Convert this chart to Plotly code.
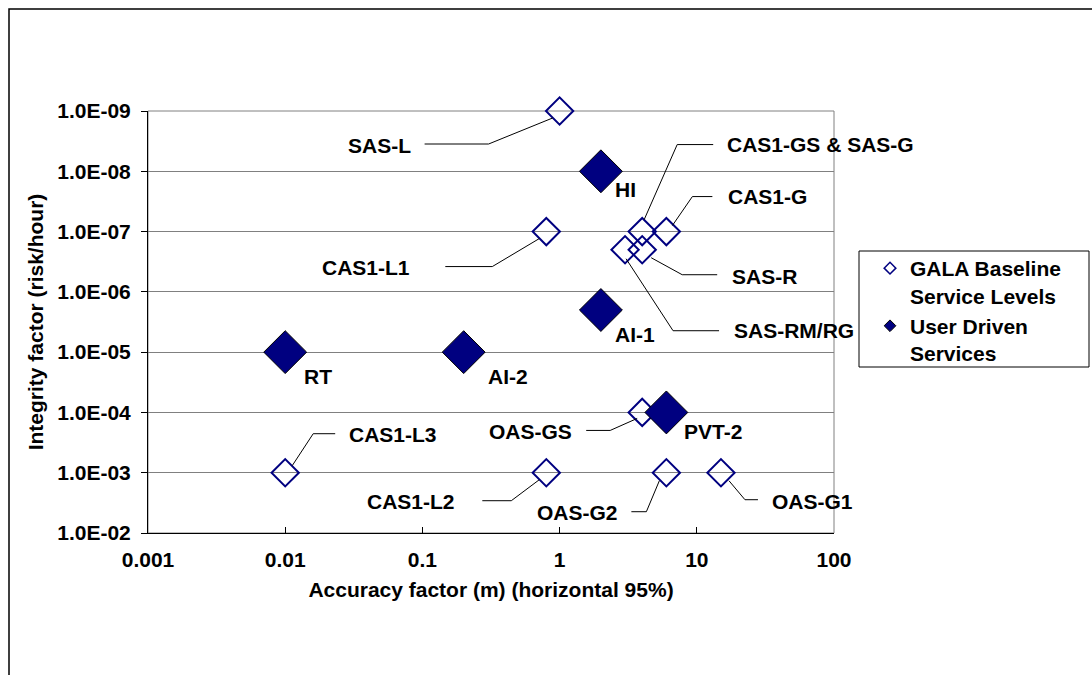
import numpy as np
import plotly.graph_objects as go

# ---------------- data ----------------
gala_labels = ["SAS-L", "CAS1-L1", "CAS1-GS & SAS-G", "CAS1-G", "SAS-R", "SAS-RM/RG",
               "OAS-GS", "CAS1-L3", "CAS1-L2", "OAS-G2", "OAS-G1"]
gala_x = [1, 0.8, 4, 6, 4, 3, 4, 0.01, 0.8, 6, 15]
gala_y = [1e-9, 1e-7, 1e-7, 1e-7, 2e-7, 2e-7, 1e-4, 1e-3, 1e-3, 1e-3, 1e-3]

user_labels = ["HI", "AI-1", "RT", "AI-2", "PVT-2"]
user_x = [2, 2, 0.01, 0.2, 6]
user_y = [1e-8, 2e-6, 1e-5, 1e-5, 1e-4]

x_tickvals = [0.001, 0.01, 0.1, 1, 10, 100]
x_ticktext = ["0.001", "0.01", "0.1", "1", "10", "100"]
y_tickvals = [1e-9, 1e-8, 1e-7, 1e-6, 1e-5, 1e-4, 1e-3, 1e-2]
y_ticktext = ["1.0E-09", "1.0E-08", "1.0E-07", "1.0E-06", "1.0E-05",
              "1.0E-04", "1.0E-03", "1.0E-02"]

series_names = ["GALA Baseline<br>Service Levels", "User Driven<br>Services"]

# ---------------- layout constants ----------------
W, H = 1092, 675
ML, MR, MT, MB = 148, 258, 111, 142
PW, PH = W - ML - MR, H - MT - MB

def pxx(px):
    return (px - ML) / PW

def pxy(py):
    return (H - MB - py) / PH

FONT = "Liberation Sans, Arial, Helvetica, sans-serif"
NAVY = "#000080"
FS = 21

# label placement: (text anchor side, dx, dy (screen px, down positive), leader polyline)
label_layout = {
    "SAS-L": ("right", -147, 34, [(-7, 7), (-71, 33), (-135, 33)]),
    "CAS1-L1": ("right", -134, 36, [(-7, 7), (-54, 35), (-101, 35)]),
    "CAS1-GS & SAS-G": ("left", 83, -87, [(2, -12), (35, -87), (71, -87)]),
    "CAS1-G": ("left", 60, -35, [(6, -6), (26, -35), (46, -35)]),
    "SAS-R": ("left", 88, 27, [(9, 8), (40, 25), (75, 25)]),
    "SAS-RM/RG": ("left", 107, 81, [(1, 9), (48, 81), (94, 81)]),
    "OAS-GS": ("right", -68, 19, [(-5, 6), (-32, 18), (-56, 18)]),
    "CAS1-L3": ("left", 62, -38, [(7, -7), (28, -39), (50, -39)]),
    "CAS1-L2": ("right", -89, 29, [(-7, 7), (-35, 28), (-64, 28)]),
    "OAS-G2": ("right", -46, 40, [(-7, 8), (-20, 39), (-35, 39)]),
    "OAS-G1": ("left", 49, 29, [(8, 8), (24, 27), (37, 27)]),
    "HI": ("left", 12, 18, None),
    "AI-1": ("left", 12, 24, None),
    "RT": ("left", 17, 24, None),
    "AI-2": ("left", 22, 24, None),
    "PVT-2": ("left", 16, 19, None),
}

fig = go.Figure()

fig.add_trace(go.Scatter(
    x=gala_x, y=gala_y, mode="markers", showlegend=False, hoverinfo="text",
    text=gala_labels, cliponaxis=False,
    marker=dict(symbol="diamond-open", size=21, color=NAVY, line=dict(width=2, color=NAVY)),
))
fig.add_trace(go.Scatter(
    x=user_x, y=user_y, mode="markers", showlegend=False, hoverinfo="text",
    text=user_labels, cliponaxis=False,
    marker=dict(symbol="diamond", size=33, color=NAVY, line=dict(width=1, color="black")),
))
# legend entries (small symbols as in the original)
fig.add_trace(go.Scatter(
    x=[None], y=[None], mode="markers", name=series_names[0],
    marker=dict(symbol="diamond-open", size=9, color=NAVY, line=dict(width=1.5, color=NAVY)),
))
fig.add_trace(go.Scatter(
    x=[None], y=[None], mode="markers", name=series_names[1],
    marker=dict(symbol="diamond", size=9, color=NAVY, line=dict(width=1, color="black")),
))

annotations = []
shapes = []
for labels, xs, ys in ((gala_labels, gala_x, gala_y), (user_labels, user_x, user_y)):
    for lab, xv, yv in zip(labels, xs, ys):
        side, dx, dy, path = label_layout[lab]
        annotations.append(dict(
            x=np.log10(xv), y=np.log10(yv), xref="x", yref="y", text=lab,
            showarrow=False, xanchor=side, yanchor="middle",
            xshift=dx, yshift=-dy,
            font=dict(family=FONT, size=FS, color="black", weight="bold"),
        ))
        if path:
            d = "M " + " L ".join(f"{px},{-py}" for px, py in path)
            shapes.append(dict(
                type="path", path=d, xref="x", yref="y",
                xsizemode="pixel", ysizemode="pixel", xanchor=xv, yanchor=yv,
                line=dict(color="black", width=1),
            ))

# plot-area border (grey, top/right)
shapes.append(dict(type="rect", xref="paper", yref="paper", x0=0, x1=1, y0=0, y1=1,
                   line=dict(color="#808080", width=1), layer="below"))
# legend box
shapes.append(dict(type="rect", xref="paper", yref="paper",
                   x0=pxx(859), x1=pxx(1089), y0=pxy(367), y1=pxy(251),
                   line=dict(color="black", width=1), fillcolor="rgba(0,0,0,0)"))
# outer chart frame
shapes.append(dict(type="rect", xref="paper", yref="paper",
                   x0=pxx(9), x1=pxx(1110), y0=pxy(700), y1=pxy(9),
                   line=dict(color="black", width=1.5), fillcolor="rgba(0,0,0,0)"))

tickfont = dict(family=FONT, size=FS, color="black", weight="bold")
titlefont = dict(family=FONT, size=FS, color="black", weight="bold")

fig.update_layout(
    width=W, height=H,
    margin=dict(l=ML, r=MR, t=MT, b=MB, pad=0),
    paper_bgcolor="white", plot_bgcolor="white",
    xaxis=dict(
        type="log", range=[-3, 2], tickmode="array", tickvals=x_tickvals, ticktext=x_ticktext,
        showgrid=False, zeroline=False, showline=True, linecolor="black", linewidth=1,
        ticks="inside", ticklen=6, tickcolor="black", tickwidth=1,
        tickfont=tickfont, ticklabelstandoff=8, automargin=False,
        title=dict(text="Accuracy factor (m) (horizontal 95%)", font=titlefont, standoff=12),
    ),
    yaxis=dict(
        type="log", range=[-2, -9], tickmode="array", tickvals=y_tickvals, ticktext=y_ticktext,
        showgrid=True, gridcolor="#808080", gridwidth=1, zeroline=False,
        showline=True, linecolor="black", linewidth=1,
        ticks="outside", ticklen=6, tickcolor="black", tickwidth=1,
        tickfont=tickfont, ticklabelstandoff=6, automargin=False,
        title=dict(text="Integrity factor (risk/hour)", font=titlefont, standoff=7),
    ),
    legend=dict(
        x=pxx(870), y=pxy(248), xanchor="left", yanchor="top",
        bgcolor="rgba(0,0,0,0)", borderwidth=0, valign="top",
        font=dict(family=FONT, size=FS, color="black", weight="bold"),
        itemsizing="trace",
    ),
    annotations=annotations,
    shapes=shapes,
    hovermode="closest",
)

fig.write_html("out.html")
